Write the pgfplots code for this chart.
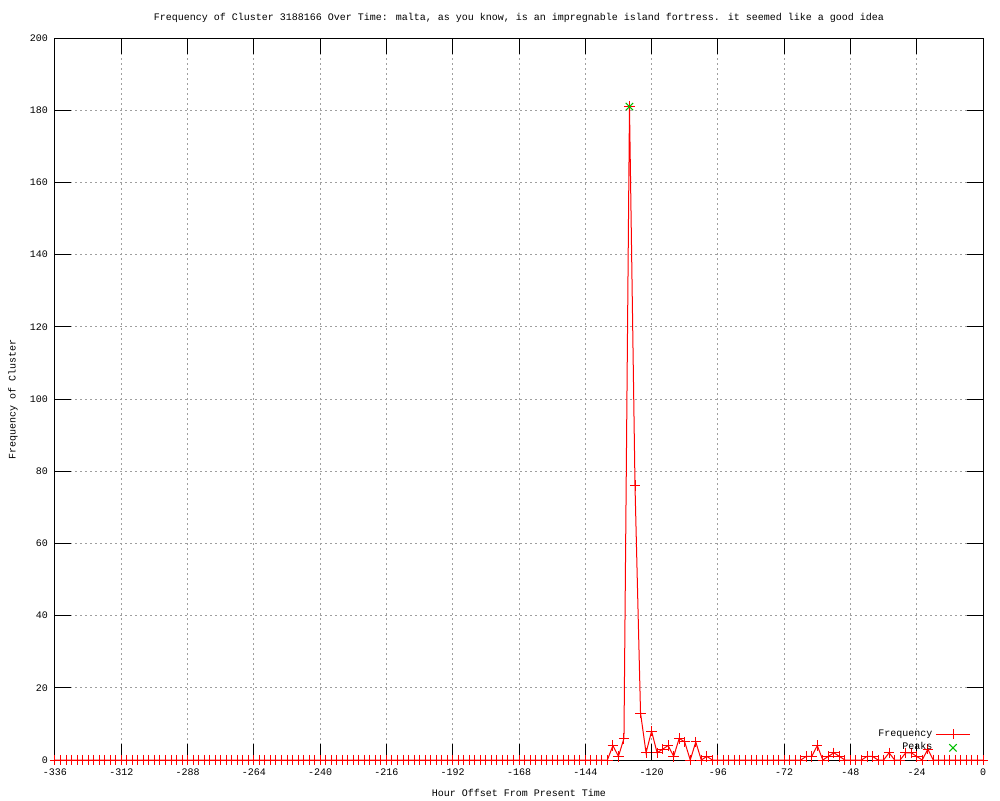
\documentclass[border=0pt]{standalone}
\usepackage{pgfplots}
\pgfplotsset{compat=1.18}
\usepackage{fontspec}
\setmainfont{Liberation Mono}
\newfontfamily\gpfont{Liberation Mono}
\newcommand\tf{\gpfont\fontsize{5}{6}\selectfont}
\definecolor{gpred}{RGB}{255,0,0}
\definecolor{gpgreen}{RGB}{0,192,0}
\begin{document}
\begin{tikzpicture}
\useasboundingbox (0,0) rectangle (500pt,400pt);
\begin{axis}[
  at={(27.5pt,20pt)}, anchor=south west,
  scale only axis, width=464pt, height=361pt,
  xmin=-336, xmax=0, ymin=0, ymax=200,
  xtick={-336,-312,...,0}, ytick={0,20,...,200},
  /pgf/number format/assume math mode=true,
  tick label style={font=\tf},
  xticklabel style={yshift=-1pt},
  grid=major,
  major grid style={gray!75, line width=0.5pt, dash pattern=on 1pt off 1.5pt},
  axis line style={line width=0.5pt},
  every tick/.style={black, line width=0.5pt},
  major tick length=8pt,
  tick align=inside,
  xtick pos=both, ytick pos=both,
  xticklabel pos=lower, yticklabel pos=left,
  legend plot pos=right,
  legend cell align=right,
  legend style={draw=none, fill=none, font=\tf, at={(0.9935,0.0525)}, anchor=north east,
    row sep=-1.2pt, nodes={inner sep=1.5pt}},
  clip=false,
]
\addplot[color=gpred, line width=0.5pt, mark=+, mark size=2.6pt, mark options={line width=0.5pt, color=gpred}] coordinates {
(-336,0)(-334,0)(-332,0)(-330,0)(-328,0)(-326,0)(-324,0)(-322,0)(-320,0)(-318,0)
(-316,0)(-314,0)(-312,0)(-310,0)(-308,0)(-306,0)(-304,0)(-302,0)(-300,0)(-298,0)
(-296,0)(-294,0)(-292,0)(-290,0)(-288,0)(-286,0)(-284,0)(-282,0)(-280,0)(-278,0)
(-276,0)(-274,0)(-272,0)(-270,0)(-268,0)(-266,0)(-264,0)(-262,0)(-260,0)(-258,0)
(-256,0)(-254,0)(-252,0)(-250,0)(-248,0)(-246,0)(-244,0)(-242,0)(-240,0)(-238,0)
(-236,0)(-234,0)(-232,0)(-230,0)(-228,0)(-226,0)(-224,0)(-222,0)(-220,0)(-218,0)
(-216,0)(-214,0)(-212,0)(-210,0)(-208,0)(-206,0)(-204,0)(-202,0)(-200,0)(-198,0)
(-196,0)(-194,0)(-192,0)(-190,0)(-188,0)(-186,0)(-184,0)(-182,0)(-180,0)(-178,0)
(-176,0)(-174,0)(-172,0)(-170,0)(-168,0)(-166,0)(-164,0)(-162,0)(-160,0)(-158,0)
(-156,0)(-154,0)(-152,0)(-150,0)(-148,0)(-146,0)(-144,0)(-142,0)(-140,0)(-138,0)
(-136,0)(-134,4)(-132,1)(-130,6)(-128,181)(-126,76)(-124,13)(-122,2)(-120,8)(-118,2)
(-116,3)(-114,4)(-112,1)(-110,6)(-108,5)(-106,0)(-104,5)(-102,0)(-100,1)(-98,0)
(-96,0)(-94,0)(-92,0)(-90,0)(-88,0)(-86,0)(-84,0)(-82,0)(-80,0)(-78,0)
(-76,0)(-74,0)(-72,0)(-70,0)(-68,0)(-66,0)(-64,1)(-62,1)(-60,4)(-58,0)
(-56,1)(-54,2)(-52,1)(-50,0)(-48,0)(-46,0)(-44,0)(-42,1)(-40,1)(-38,0)
(-36,0)(-34,2)(-32,0)(-30,0)(-28,2)(-26,2)(-24,1)(-22,0)(-20,3)(-18,0)
(-16,0)(-14,0)(-12,0)(-10,0)(-8,0)(-6,0)(-4,0)(-2,0)(0,0)
};
\addlegendentry{Frequency}
\addplot[only marks, color=gpgreen, mark=x, mark size=2.6pt, mark options={line width=0.5pt}] coordinates {(-128,181)};
\addlegendentry{Peaks}
\node[font=\tf] at (axis description cs:0.5,1.0277) {Frequency of Cluster 3188166 Over Time: malta, as you know, is an impregnable island fortress. it seemed like a good idea};
\node[font=\tf] at (axis description cs:0.5,-0.0457) {Hour Offset From Present Time};
\node[font=\tf, rotate=90] at (axis description cs:-0.0453,0.5) {Frequency of Cluster};
\end{axis}
\end{tikzpicture}
\end{document}
